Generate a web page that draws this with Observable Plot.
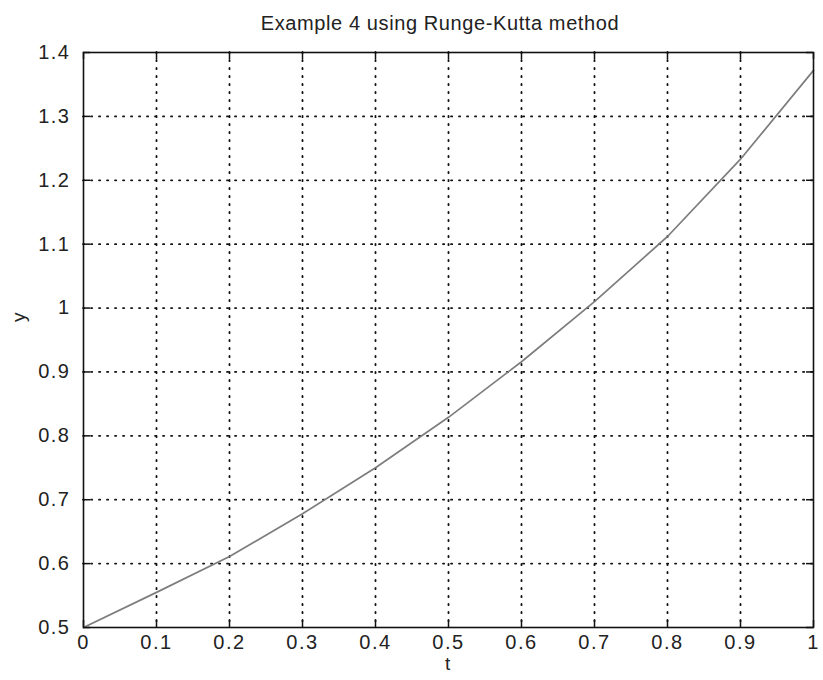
<!DOCTYPE html>
<html>
<head>
<meta charset="utf-8">
<script src="https://cdn.jsdelivr.net/npm/d3@7"></script>
<script src="https://cdn.jsdelivr.net/npm/@observablehq/plot@0.6"></script>
<style>
  body { margin: 0; background: #fff; width: 823px; height: 680px; overflow: hidden; }
  #title { box-sizing: border-box; width: 823px; height: 40px; padding-left: 57px; padding-top: 6px;
    line-height: 34px; text-align: center; font-family: "Liberation Sans", Arial, sans-serif;
    font-size: 20px; letter-spacing: 0.6px; color: #222; }
  svg { display: block; }
  svg text { letter-spacing: 1.5px; }
</style>
</head>
<body>
<div id="title">Example 4 using Runge-Kutta method</div>
<div id="chart"></div>
<script>
// Data
const tValues = [0, 0.1, 0.2, 0.3, 0.4, 0.5, 0.6, 0.7, 0.8, 0.9, 1.0];
const yValues = [0.5, 0.555, 0.611, 0.678, 0.750, 0.829, 0.916, 1.010, 1.112, 1.233, 1.372];

const xTicks = [0, 0.1, 0.2, 0.3, 0.4, 0.5, 0.6, 0.7, 0.8, 0.9, 1];
const xTickLabels = ["0", "0.1", "0.2", "0.3", "0.4", "0.5", "0.6", "0.7", "0.8", "0.9", "1"];
const yTicks = [0.5, 0.6, 0.7, 0.8, 0.9, 1, 1.1, 1.2, 1.3, 1.4];
const yTickLabels = ["0.5", "0.6", "0.7", "0.8", "0.9", "1", "1.1", "1.2", "1.3", "1.4"];

const xLabel = "t";
const yLabel = "y";

const data = tValues.map((t, i) => ({t, y: yValues[i]}));

const W = 823, H = 640;
const mL = 83, mR = 10, mT = 12, mB = 53;
const innerW = W - mL - mR, innerH = H - mT - mB;
const tick = 7;

const chart = Plot.plot({
  width: W,
  height: H,
  marginLeft: mL,
  marginRight: mR,
  marginTop: mT,
  marginBottom: mB,
  style: {fontFamily: "Liberation Sans, Arial, sans-serif", color: "#222", background: "white"},
  x: {domain: [0, 1]},
  y: {domain: [0.5, 1.4]},
  marks: [
    // dotted grid
    Plot.ruleX(xTicks.slice(1, -1), {y1: 1.4, y2: 0.5, stroke: "#111", strokeWidth: 1.8, strokeDasharray: "1.2,6.8", strokeLinecap: "round"}),
    Plot.ruleY(yTicks.slice(1, -1), {x1: 0, x2: 1, stroke: "#111", strokeWidth: 1.8, strokeDasharray: "1.2,6.8", strokeLinecap: "round"}),
    // inward ticks on all four sides
    Plot.ruleX(xTicks, {y1: 1.4, y2: 0.5, insetTop: innerH - tick, stroke: "#111", strokeWidth: 1.5}),
    Plot.ruleX(xTicks, {y1: 1.4, y2: 0.5, insetBottom: innerH - tick, stroke: "#111", strokeWidth: 1.5}),
    Plot.ruleY(yTicks, {x1: 0, x2: 1, insetRight: innerW - tick, stroke: "#111", strokeWidth: 1.5}),
    Plot.ruleY(yTicks, {x1: 0, x2: 1, insetLeft: innerW - tick, stroke: "#111", strokeWidth: 1.5}),
    // the solution curve
    Plot.line(data, {x: "t", y: "y", stroke: "#7d7d7d", strokeWidth: 1.7}),
    Plot.frame({stroke: "#111", strokeWidth: 1.6}),
    Plot.axisX(xTicks, {tickSize: 0, tickPadding: 7, fontSize: 20, label: null,
      tickFormat: (d) => xTickLabels[xTicks.indexOf(d)]}),
    Plot.axisY(yTicks, {tickSize: 0, tickPadding: 13, fontSize: 20, label: null,
      tickFormat: (d) => yTickLabels[yTicks.indexOf(d)]}),
    Plot.text([xLabel], {frameAnchor: "bottom", dy: 42, fontSize: 19, fill: "#222"}),
    Plot.text([yLabel], {frameAnchor: "left", dx: -65, dy: -18, rotate: -90, fontSize: 19, fill: "#222"})
  ]
});
document.getElementById("chart").appendChild(chart);
</script>
</body>
</html>
